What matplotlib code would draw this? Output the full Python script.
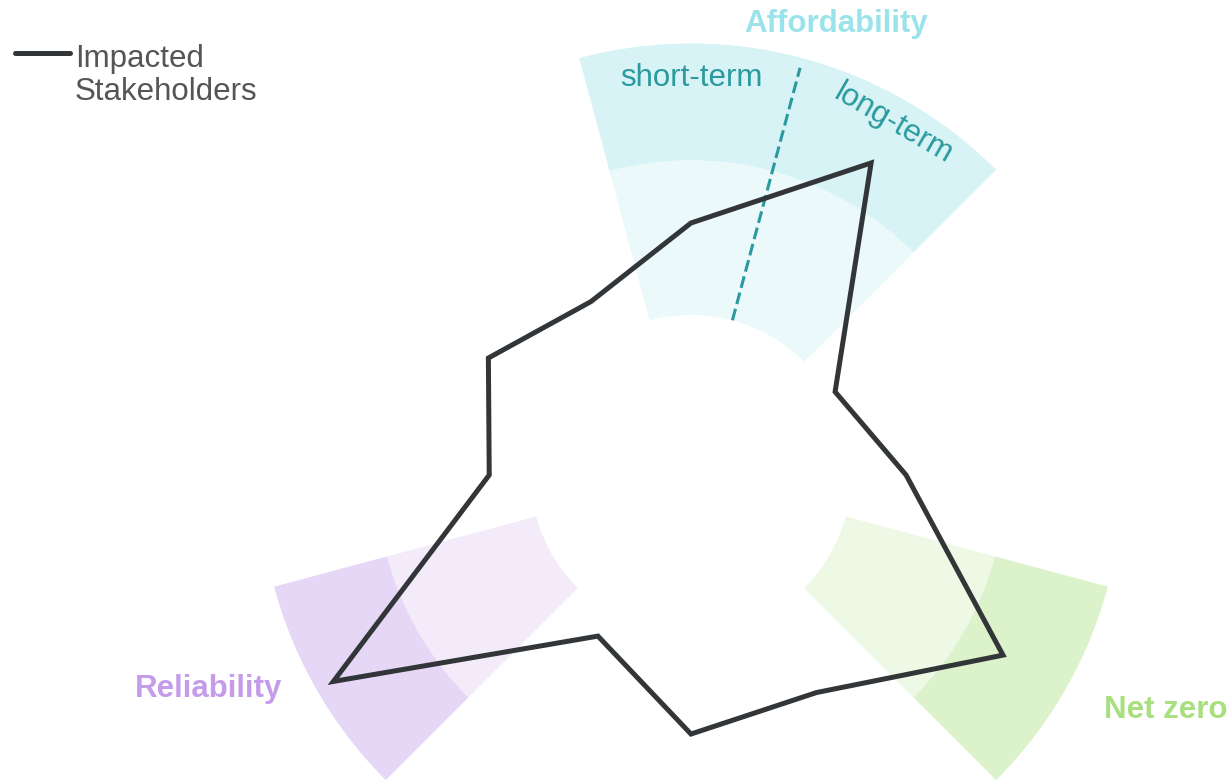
import matplotlib.pyplot as plt
import numpy as np
from matplotlib.lines import Line2D

plt.rcParams['font.family'] = ['Liberation Sans', 'DejaVu Sans']

# 12 spokes, counted clockwise from the top
n_spokes = 12
stakeholders = [3.21, 4.59, 2.12, 2.74, 4.59, 3.20, 3.30, 2.37, 5.26, 2.57, 2.98, 2.55]

# goal sectors drawn behind the line
goal_names = ['Affordability', 'Net zero', 'Reliability']
goal_spokes = [[0, 1], [4], [8]]
goal_colors = ['#9be3ea', '#a9e07f', '#c49cea']
band_inner = 2.04
band_mid = 4.01
band_outer = 5.5

term_labels = ['short-term', 'long-term']

fig = plt.figure(figsize=(12.32, 7.82), dpi=100)
ax = fig.add_axes([0.2104, -0.1595, 0.7009, 1.1042], projection='polar')
ax.set_theta_zero_location('N')
ax.set_theta_direction(-1)
ax.set_ylim(0, band_outer)
ax.set_axis_off()

step = 2 * np.pi / n_spokes
theta = np.arange(n_spokes) * step

for spokes, color in zip(goal_spokes, goal_colors):
    centre = theta[spokes].mean()
    width = len(spokes) * step
    ax.bar(centre, band_mid - band_inner, width=width, bottom=band_inner,
           color=color, alpha=0.2, linewidth=0)
    ax.bar(centre, band_outer - band_mid, width=width, bottom=band_mid,
           color=color, alpha=0.4, linewidth=0)

# split between short and long term
teal = '#2a9a9e'
ax.plot([step / 2, step / 2], [band_inner, 5.37], color=teal, lw=2.2,
        ls=(0, (3.9, 1.6)), zorder=3)
ax.text(theta[0], 4.95, term_labels[0], color=teal, fontsize=22.5,
        ha='center', va='baseline', rotation=0, rotation_mode='anchor')
ax.text(theta[1], 5.06, term_labels[1], color=teal, fontsize=22.5,
        ha='center', va='baseline', rotation=-30, rotation_mode='anchor')

# goal names
label_pos = [(18.1, 5.94), (117.1, 6.80), (245.3, 6.76)]
for name, color, (ang, r) in zip(goal_names, goal_colors, label_pos):
    ax.text(np.deg2rad(ang), r, name, color=color, fontsize=22.5,
            fontweight='bold', ha='center', va='baseline')

# closed outline, so the last corner is joined like the others
line_color = '#323639'
ax.fill(theta, stakeholders, fill=False, edgecolor=line_color, lw=3.6,
        joinstyle='miter', zorder=5)

# legend drawn by hand so the line sits on the first text row
fig.add_artist(Line2D([15 / 1232, 70 / 1232], [1 - 53 / 782, 1 - 53 / 782],
                      color=line_color, lw=3.6, solid_capstyle='round'))
fig.text(75 / 1232, 1 - 100 / 782, 'Impacted\nStakeholders', color='#555555',
         fontsize=22.5, ha='left', va='baseline', linespacing=1.15)

fig.savefig('out.png', dpi=100)
